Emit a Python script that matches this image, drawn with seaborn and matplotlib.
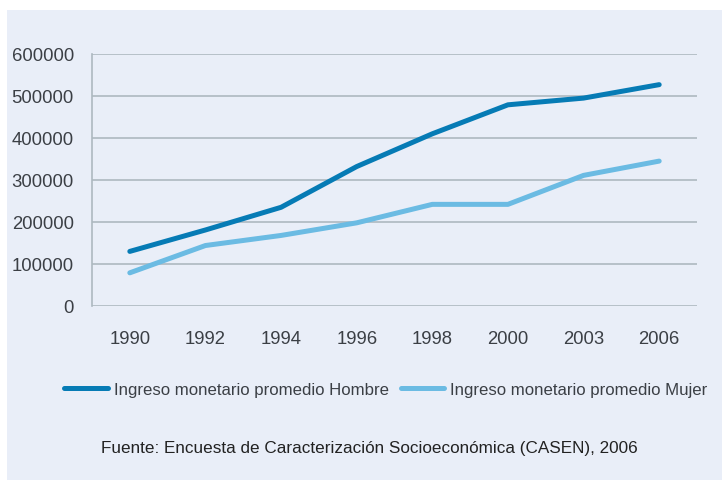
import numpy as np
import pandas as pd
import seaborn as sns
import matplotlib.pyplot as plt
from matplotlib.patches import Rectangle

#### Data ####
years = ['1990', '1992', '1994', '1996', '1998', '2000', '2003', '2006']
hombre = [130000, 181000, 235000, 332000, 410000, 479000, 495000, 527000]
mujer = [79000, 144000, 168000, 198000, 242000, 242000, 311000, 345000]
series_names = ['Ingreso monetario promedio Hombre', 'Ingreso monetario promedio Mujer']
colors = ['#067bb5', '#6bbbe3']
yticks = [0, 100000, 200000, 300000, 400000, 500000, 600000]
source = 'Fuente: Encuesta de Caracterización Socioeconómica (CASEN), 2006'

df = pd.DataFrame({
    'year': years * 2,
    'value': hombre + mujer,
    'serie': [series_names[0]] * len(years) + [series_names[1]] * len(years),
})

bg = '#e9eef8'
grid_col = '#adb8c0'
txt_col = '#3b3f45'

sns.set_theme(style='white')
plt.rcParams['font.family'] = ['Liberation Sans', 'DejaVu Sans']

fig = plt.figure(figsize=(7.22, 4.81), dpi=100, facecolor='white')
# light panel behind everything (white margin on top/left)
fig.patches.append(Rectangle((7 / 722, 0), 1 - 7 / 722, 1 - 11 / 481,
                             transform=fig.transFigure, facecolor=bg,
                             edgecolor='none', zorder=-10))

ax = fig.add_axes([92 / 722, 1 - 307 / 481, 605 / 722, 252 / 481])
ax.set_facecolor(bg)

sns.lineplot(data=df, x='year', y='value', hue='serie', palette=colors,
             linewidth=3.6, ax=ax, legend=False, sort=False,
             solid_capstyle='round', solid_joinstyle='round', zorder=3)

ax.set_xlim(-0.5, len(years) - 0.5)
ax.set_ylim(0, 600000)
ax.set_yticks(yticks)
ax.set_yticklabels([str(v) for v in yticks])
ax.set_xlabel('')
ax.set_ylabel('')
ax.grid(axis='y', color=grid_col, linewidth=1.2, zorder=1)
ax.grid(axis='x', visible=False)
for s in ['top', 'right', 'bottom']:
    ax.spines[s].set_visible(False)
ax.spines['left'].set_color(grid_col)
ax.spines['left'].set_linewidth(1.2)
ax.tick_params(axis='y', length=0, pad=13, labelsize=13.3, labelcolor=txt_col)
ax.tick_params(axis='x', length=0, pad=17, labelsize=13.3, labelcolor=txt_col)

# legend below the plot
handles = [plt.Line2D([], [], color=c, linewidth=3.6, solid_capstyle='round') for c in colors]
leg = fig.legend(handles, series_names, loc='center left',
                 bbox_to_anchor=(64 / 722, 1 - 390 / 481), ncol=2, frameon=False,
                 fontsize=12.1, handlelength=2.6, handletextpad=0.36,
                 columnspacing=0.7, borderpad=0, borderaxespad=0)
for t in leg.get_texts():
    t.set_color(txt_col)

fig.text(101 / 722, 1 - 448 / 481, source, fontsize=12.3, color='#222222',
         va='center', ha='left')

fig.savefig('out.png', dpi=100, facecolor='white')
